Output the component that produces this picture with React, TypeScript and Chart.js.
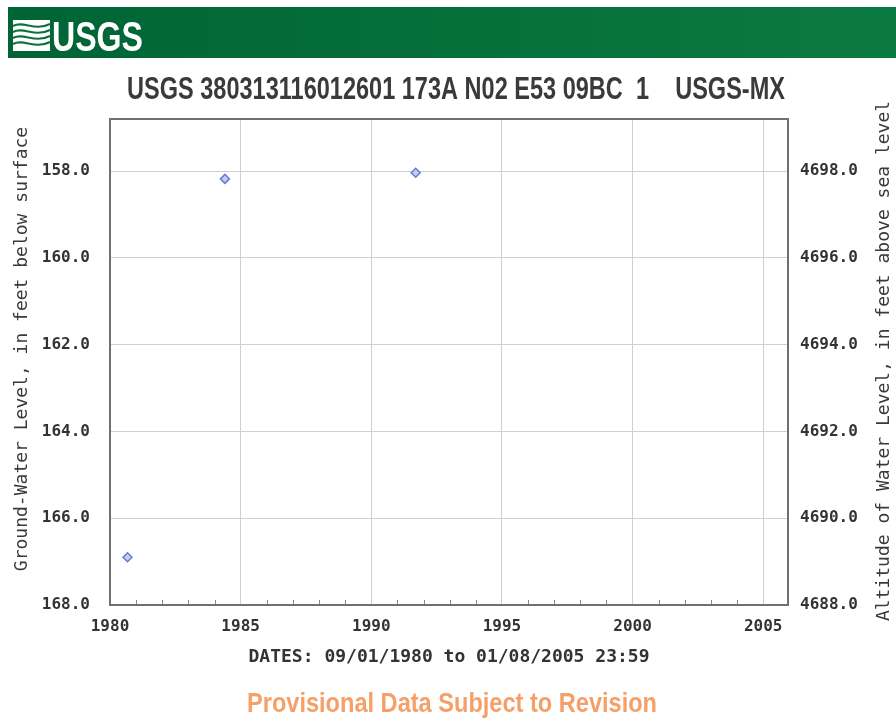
import React, { useEffect, useRef } from 'react';
import { Chart, registerables } from 'chart.js';

Chart.register(...registerables);

// ---- data ----
const sampleYears = [1980.67, 1984.4, 1991.7];
const depthValues = [166.9, 158.18, 158.04];
const depthTicks = [158, 160, 162, 164, 166, 168];
const altitudeTicks = [4688, 4690, 4692, 4694, 4696, 4698];
const yearTicks = [1980, 1985, 1990, 1995, 2000, 2005];
const minorYearTicks = [1981, 1982, 1983, 1984, 1986, 1987, 1988, 1989, 1991, 1992, 1993, 1994, 1996, 1997, 1998, 1999, 2001, 2002, 2003, 2004];
const LAND_SURFACE_ALT = 4856;
const DEPTH_MIN = 156.8;
const DEPTH_MAX = 168;
const YEAR_MIN = 1980;
const YEAR_MAX = 2005.95;

const titleText = 'USGS 380313116012601 173A N02 E53 09BC  1    USGS-MX';
const leftAxisTitle = 'Ground-Water Level, in feet below surface';
const rightAxisTitle = 'Altitude of Water Level, in feet above sea level';
const datesText = 'DATES: 09/01/1980 to 01/08/2005 23:59';
const footerText = 'Provisional Data Subject to Revision';

const MONO = '"DejaVu Sans Mono", "Liberation Mono", monospace';
const SANS = '"Liberation Sans", Arial, sans-serif';
const TICK_COLOR = '#333333';
const GRID_COLOR = '#cfcfcf';

function fitText(ctx: CanvasRenderingContext2D, text: string, x0: number, x1: number, baseline: number, font: string, color: string) {
  ctx.save();
  ctx.font = font;
  ctx.textAlign = 'left';
  ctx.textBaseline = 'alphabetic';
  const w = ctx.measureText(text).width;
  const sx = (x1 - x0) / w;
  ctx.translate(x0, baseline);
  ctx.scale(sx, 1);
  ctx.fillStyle = color;
  ctx.fillText(text, 0, 0);
  ctx.restore();
}

function verticalText(ctx: CanvasRenderingContext2D, text: string, cx: number, cy: number, font: string, color: string) {
  ctx.save();
  ctx.translate(cx, cy);
  ctx.rotate(-Math.PI / 2);
  ctx.font = font;
  ctx.fillStyle = color;
  ctx.textAlign = 'center';
  ctx.textBaseline = 'middle';
  ctx.fillText(text, 0, 0);
  ctx.restore();
}

const decorPlugin = {
  id: 'usgsDecor',
  beforeDraw(chart: any) {
    const ctx: CanvasRenderingContext2D = chart.ctx;
    ctx.save();
    ctx.fillStyle = '#ffffff';
    ctx.fillRect(0, 0, chart.width, chart.height);
    // header bar
    const g = ctx.createLinearGradient(8, 0, 896, 0);
    g.addColorStop(0, '#006434');
    g.addColorStop(1, '#0b7a40');
    ctx.fillStyle = g;
    ctx.fillRect(8, 7, 888, 51);
    // logo
    ctx.fillStyle = '#ffffff';
    ctx.fillRect(13, 20, 37, 31);
    ctx.strokeStyle = '#0a713c';
    ctx.lineWidth = 2;
    for (let i = 0; i < 4; i++) {
      const y = 26 + i * 6;
      ctx.beginPath();
      ctx.moveTo(13, y);
      ctx.bezierCurveTo(24, y - 6, 34, y + 6, 50, y - 2);
      ctx.stroke();
    }
    ctx.restore();
    fitText(ctx, 'USGS', 52, 143, 51, `bold 43px ${SANS}`, '#ffffff');
    fitText(ctx, titleText, 127, 785, 99, `bold 31px ${SANS}`, '#3a3a3a');
    fitText(ctx, footerText, 247, 657, 712, `bold 28px ${SANS}`, '#f5a068');
    verticalText(ctx, leftAxisTitle, 22, 349, `18px ${MONO}`, '#3a3a3a');
    verticalText(ctx, rightAxisTitle, 884, 361, `18px ${MONO}`, '#3a3a3a');
  },
  beforeDatasetsDraw(chart: any) {
    const ctx: CanvasRenderingContext2D = chart.ctx;
    const a = chart.chartArea;
    const xs = chart.scales.x;
    ctx.save();
    ctx.strokeStyle = '#888888';
    ctx.lineWidth = 1;
    minorYearTicks.forEach((yr) => {
      const px = Math.round(xs.getPixelForValue(yr)) + 0.5;
      ctx.beginPath();
      ctx.moveTo(px, a.bottom);
      ctx.lineTo(px, a.bottom - 5);
      ctx.stroke();
    });
    ctx.strokeStyle = '#707070';
    ctx.lineWidth = 2;
    ctx.strokeRect(a.left, a.top, a.right - a.left, a.bottom - a.top);
    ctx.restore();
  },
};

export default function App() {
  const ref = useRef<HTMLCanvasElement | null>(null);

  useEffect(() => {
    if (!ref.current) return;
    const points = sampleYears.map((x, i) => ({ x, y: depthValues[i] }));
    const tickFont = { family: MONO, weight: 'bold' as const, size: 16 };
    const chart = new Chart(ref.current, {
      type: 'scatter',
      data: {
        datasets: [
          {
            data: points,
            xAxisID: 'x',
            yAxisID: 'y',
            pointStyle: 'rectRot',
            pointRadius: 4.5,
            pointBorderWidth: 1.5,
            borderColor: '#6a7bd4',
            backgroundColor: '#c3ccf2',
            showLine: false,
          },
        ],
      },
      options: {
        responsive: false,
        animation: false,
        devicePixelRatio: 1,
        layout: { padding: { top: 119, bottom: 40, left: 0, right: 0 } },
        plugins: { legend: { display: false }, tooltip: { enabled: false } },
        scales: {
          x: {
            type: 'linear',
            position: 'bottom',
            min: YEAR_MIN,
            max: YEAR_MAX,
            afterBuildTicks: (s: any) => {
              s.ticks = yearTicks.map((v) => ({ value: v }));
            },
            afterFit: (s: any) => {
              s.height = 75;
            },
            ticks: {
              autoSkip: false,
              maxRotation: 0,
              padding: 12,
              color: TICK_COLOR,
              font: tickFont,
              callback: (v: any) => String(v),
            },
            grid: { color: GRID_COLOR, drawTicks: false, lineWidth: 1 },
            border: { display: false },
            title: {
              display: true,
              text: datesText,
              color: '#333333',
              font: { family: MONO, weight: 'bold', size: 18 },
              padding: { top: 0, bottom: 12 },
            },
          },
          y: {
            type: 'linear',
            position: 'left',
            reverse: true,
            min: DEPTH_MIN,
            max: DEPTH_MAX,
            afterBuildTicks: (s: any) => {
              s.ticks = depthTicks.map((v) => ({ value: v }));
            },
            afterFit: (s: any) => {
              s.width = 110;
            },
            ticks: {
              padding: 20,
              color: TICK_COLOR,
              font: tickFont,
              callback: (v: any) => Number(v).toFixed(1),
            },
            grid: { color: GRID_COLOR, drawTicks: false, lineWidth: 1 },
            border: { display: false },
            title: { display: false },
          },
          y2: {
            type: 'linear',
            position: 'right',
            display: true,
            min: LAND_SURFACE_ALT - DEPTH_MAX,
            max: LAND_SURFACE_ALT - DEPTH_MIN,
            afterBuildTicks: (s: any) => {
              s.ticks = altitudeTicks.map((v) => ({ value: v }));
            },
            afterFit: (s: any) => {
              s.width = 108;
            },
            ticks: {
              padding: 12,
              color: TICK_COLOR,
              font: tickFont,
              callback: (v: any) => Number(v).toFixed(1),
            },
            grid: { drawOnChartArea: false, drawTicks: false },
            border: { display: false },
            title: { display: false },
          },
        },
      } as any,
      plugins: [decorPlugin],
    });
    return () => chart.destroy();
  }, []);

  return (
    <div style={{ position: 'absolute', left: 0, top: 0, width: 896, height: 720, background: '#fff' }}>
      <canvas ref={ref} width={896} height={720} style={{ width: 896, height: 720, display: 'block' }} />
    </div>
  );
}
